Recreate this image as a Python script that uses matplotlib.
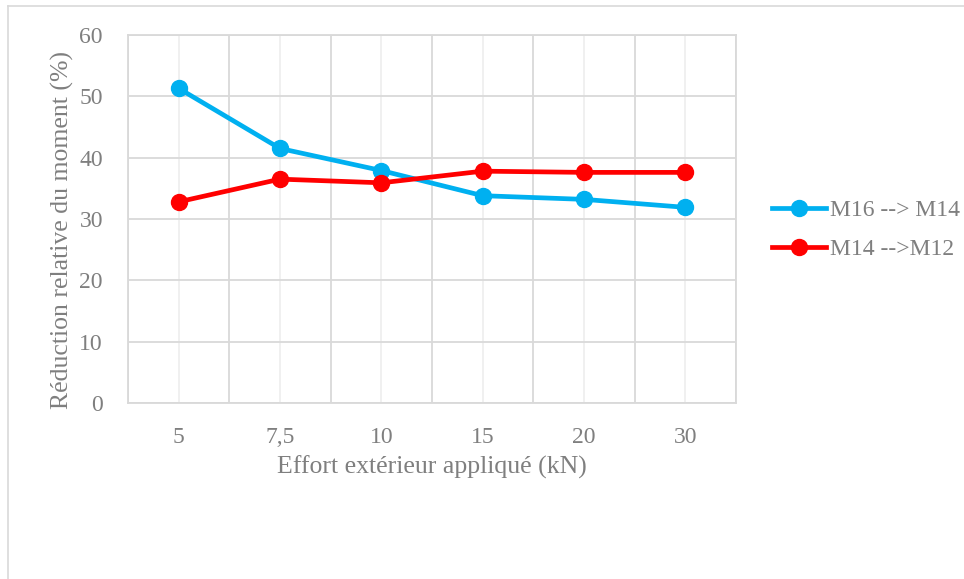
import numpy as np
import matplotlib.pyplot as plt
from matplotlib.lines import Line2D

# data
categories = ['5', '7,5', '10', '15', '20', '30']
m16_m14 = [51.3, 41.5, 37.9, 33.8, 33.2, 31.9]
m14_m12 = [32.8, 36.5, 35.9, 37.8, 37.6, 37.6]
series_labels = ['M16 --> M14', 'M14 -->M12']

TXT = '#7f7f7f'
GRID = '#d9d9d9'

plt.rcParams['font.family'] = ['Liberation Serif', 'DejaVu Serif']

fig = plt.figure(figsize=(9.64, 5.79), dpi=100)
ax = fig.add_axes([128/964, 1 - 403/579, 608/964, 368/579])

# chart border (Excel style, cut off at right/bottom)
fig.add_artist(Line2D([8/964, 8/964], [0, 1 - 6/579], transform=fig.transFigure,
                      color=GRID, lw=1.2))
fig.add_artist(Line2D([8/964, 1], [1 - 6/579, 1 - 6/579], transform=fig.transFigure,
                      color=GRID, lw=1.2))

x = np.arange(len(categories))
ax.plot(x, m16_m14, color='#00b0f0', lw=3.4, marker='o', ms=11.5, label=series_labels[0], zorder=3)
ax.plot(x, m14_m12, color='#ff0000', lw=3.4, marker='o', ms=11.5, label=series_labels[1], zorder=3)

ax.set_xlim(-0.5, len(categories) - 0.5)
ax.set_ylim(0, 60)
ax.set_yticks(range(0, 61, 10))
ax.set_xticks(x)
ax.set_xticklabels(categories)
ax.set_xticks(np.arange(-0.5, len(categories)), minor=True)

ax.grid(axis='y', color=GRID, lw=1.3)
ax.grid(axis='x', which='major', color='#efefef', lw=1.3)
ax.grid(axis='x', which='minor', color=GRID, lw=1.3)
ax.set_axisbelow(True)

for s in ax.spines.values():
    s.set_color(GRID)
    s.set_linewidth(1.3)

ax.tick_params(axis='both', which='both', length=0, labelsize=17, colors=TXT)
ax.tick_params(axis='x', pad=17)
ax.tick_params(axis='y', pad=18)

ax.set_xlabel('Effort extérieur appliqué (kN)', fontsize=18.5, color=TXT)
ax.set_ylabel('Réduction relative du moment (%)', fontsize=18.5, color=TXT)
ax.xaxis.set_label_coords(0.5, -0.174)
ax.yaxis.set_label_coords(-0.1086, 0.47)
ax.xaxis.label.set_va('center')
ax.yaxis.label.set_va('center')

fig.legend(loc='center left', bbox_to_anchor=(772/964, 1 - 230/579), frameon=False,
           fontsize=17, labelcolor=TXT, handlelength=2.3, handletextpad=0.15,
           labelspacing=0.72, borderpad=0, borderaxespad=0)

fig.savefig('out.png', dpi=100)
